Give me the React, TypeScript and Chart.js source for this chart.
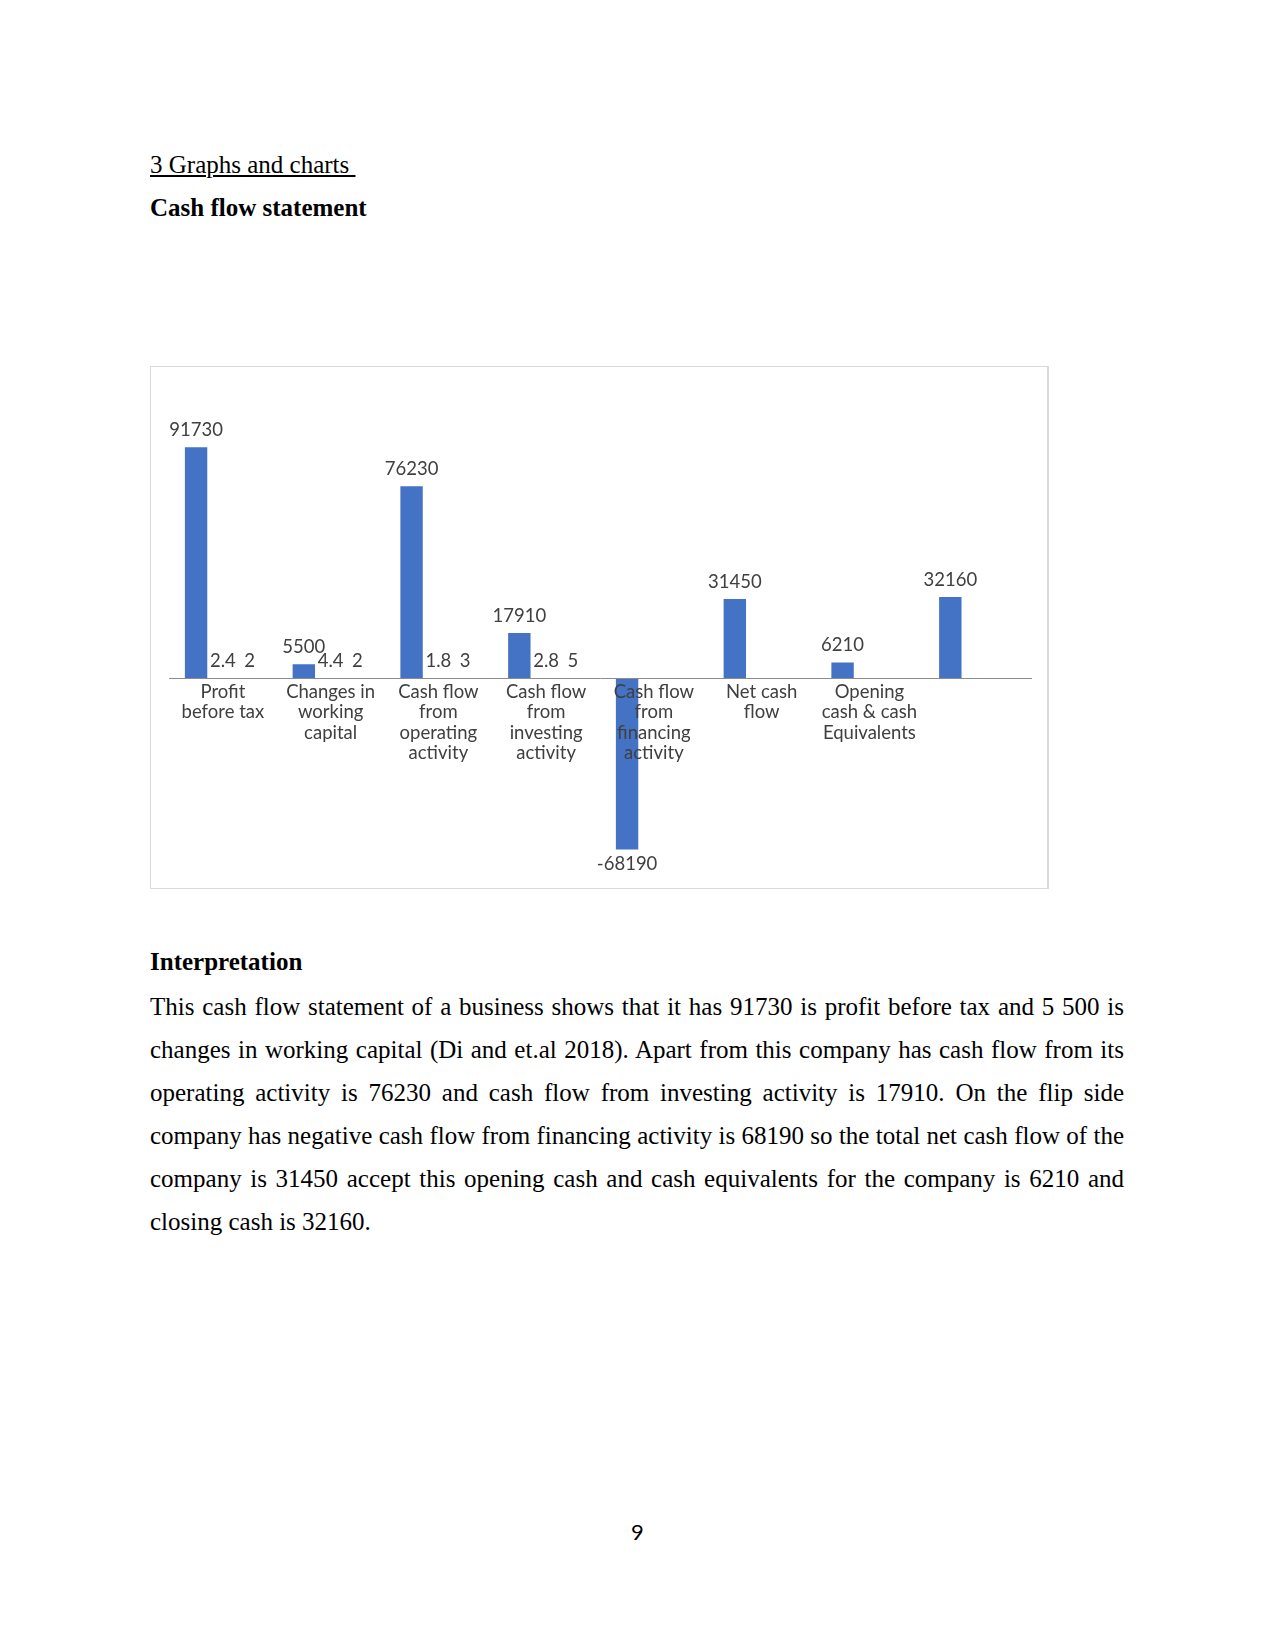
import React, { useEffect, useRef } from 'react';
import { Chart, registerables } from 'chart.js';

Chart.register(...registerables);

const categories: (string | string[])[] = [
  ['Profit', 'before tax'],
  ['Changes in', 'working', 'capital'],
  ['Cash flow', 'from', 'operating', 'activity'],
  ['Cash flow', 'from', 'investing', 'activity'],
  ['Cash flow', 'from', 'financing', 'activity'],
  ['Net cash', 'flow'],
  ['Opening', 'cash & cash', 'Equivalents'],
  '',
];
const cashFlowValues = [91730, 5500, 76230, 17910, -68190, 31450, 6210, 32160];
const seriesTwoValues = [2.4, 4.4, 1.8, 2.8, null, null, null, null];
const seriesThreeValues = [2, 2, 3, 5, null, null, null, null];

const yMin = -80000;
const yMax = 100000;

const paragraphLines = [
  'This cash flow statement of a business shows that it has 91730 is profit before tax and 5 500 is',
  'changes in working capital (Di and et.al  2018). Apart from this company has cash flow from its',
  'operating activity is 76230 and cash flow from investing activity is 17910. On the flip side',
  'company has negative cash flow from financing activity is 68190 so the total net cash flow of the',
  'company is 31450 accept this opening cash and cash equivalents for the company is 6210 and',
  'closing cash is 32160.',
];

const valueLabelPlugin = {
  id: 'valueLabels',
  afterDatasetsDraw(chart: any) {
    const ctx = chart.ctx;
    ctx.save();
    ctx.font = '18.5px Lato';
    ctx.fillStyle = '#404040';
    ctx.textAlign = 'center';
    ctx.textBaseline = 'middle';
    chart.data.datasets.forEach((ds: any, i: number) => {
      const meta = chart.getDatasetMeta(i);
      meta.data.forEach((bar: any, j: number) => {
        const v = ds.data[j];
        if (v === null || v === undefined) return;
        const y = v >= 0 ? bar.y - 17 : bar.y + 15;
        ctx.fillText(String(v), bar.x, y);
      });
    });
    ctx.restore();
  },
};

function CashFlowChart() {
  const ref = useRef<HTMLCanvasElement | null>(null);
  useEffect(() => {
    if (!ref.current) return;
    const chart = new Chart(ref.current, {
      type: 'bar',
      data: {
        labels: categories as any,
        datasets: [
          {
            label: 'Amount',
            data: cashFlowValues,
            backgroundColor: '#4472C4',
            categoryPercentage: 0.746,
            barPercentage: 0.836,
          },
          {
            label: 'Series 2',
            data: seriesTwoValues as any,
            backgroundColor: '#ED7D31',
            categoryPercentage: 0.746,
            barPercentage: 0.836,
          },
          {
            label: 'Series 3',
            data: seriesThreeValues as any,
            backgroundColor: '#A5A5A5',
            categoryPercentage: 0.746,
            barPercentage: 0.836,
          },
        ],
      },
      options: {
        animation: false,
        responsive: false,
        maintainAspectRatio: false,
        layout: { padding: { left: 18, right: 17, top: 59.5, bottom: 8.8 } },
        plugins: { legend: { display: false }, tooltip: { enabled: false } },
        scales: {
          y: { display: false, min: yMin, max: yMax },
          x: {
            position: { y: 0 } as any,
            offset: true,
            grid: { display: true, color: 'rgba(0,0,0,0)', drawTicks: false },
            border: { display: true, color: '#8c8c8c', width: 1, z: 1 } as any,
            ticks: {
              z: 1,
              font: { family: 'Lato', size: 18.5, lineHeight: 1.1 },
              color: '#404040',
              padding: 4,
              maxRotation: 0,
              minRotation: 0,
              autoSkip: false,
            },
          },
        },
      },
      plugins: [valueLabelPlugin],
    });
    return () => chart.destroy();
  }, []);
  return <canvas ref={ref} width={897} height={521} style={{ display: 'block', width: 897, height: 521 }} />;
}

const serif = '"Liberation Serif", "Times New Roman", serif';

export default function App() {
  return (
    <div style={{ position: 'absolute', left: 0, top: 0, width: 1275, height: 1651, background: '#fff', fontFamily: serif, color: '#000' }}>
      <div style={{ position: 'absolute', left: 150, top: 150, fontSize: 25, lineHeight: '30px', textDecoration: 'underline', whiteSpace: 'pre' }}>
        {'3 Graphs and charts '}
      </div>
      <div style={{ position: 'absolute', left: 150, top: 193, fontSize: 25, lineHeight: '30px', fontWeight: 'bold' }}>
        Cash flow statement
      </div>
      <div style={{ position: 'absolute', left: 150, top: 366, width: 899, height: 523, boxSizing: 'border-box', border: '1px solid #d9d9d9', borderRightWidth: 2 }}>
        <CashFlowChart />
      </div>
      <div style={{ position: 'absolute', left: 150, top: 947, fontSize: 25, lineHeight: '30px', fontWeight: 'bold' }}>
        Interpretation
      </div>
      {paragraphLines.map((line, i) => (
        <div
          key={i}
          style={{
            position: 'absolute',
            left: 150,
            top: 991.5 + i * 43.16,
            width: 974,
            fontSize: 25,
            lineHeight: '30px',
            whiteSpace: 'nowrap',
            textAlign: i < paragraphLines.length - 1 ? 'justify' : 'left',
            textAlignLast: i < paragraphLines.length - 1 ? 'justify' : 'left',
          } as any}
        >
          {line}
        </div>
      ))}
      <div style={{ position: 'absolute', left: 0, width: 1275, top: 1517, textAlign: 'center', fontFamily: 'Lato', fontSize: 22, lineHeight: '30px' }}>
        9
      </div>
    </div>
  );
}
